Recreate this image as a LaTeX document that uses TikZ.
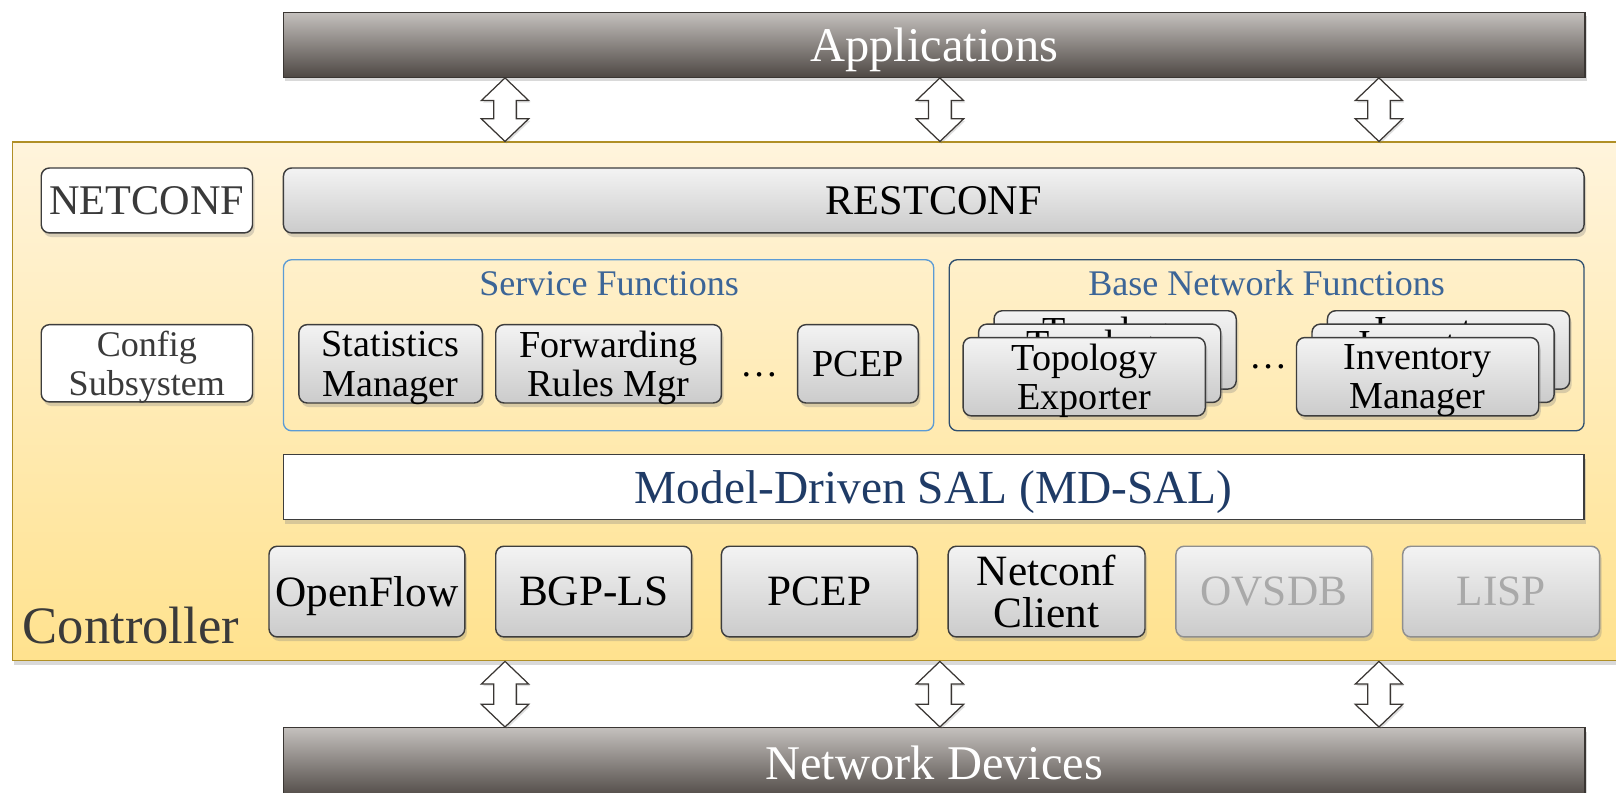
\documentclass[tikz,border=0pt]{standalone}
\usepackage{fontspec}
\setmainfont{Liberation Serif}
\usetikzlibrary{shadows,calc}
\definecolor{bartop}{HTML}{C4C0BD}
\definecolor{barbot}{HTML}{4E4844}
\definecolor{barline}{HTML}{3A3633}
\definecolor{ctrtop}{HTML}{FFF4DC}
\definecolor{ctrbot}{HTML}{FFE28E}
\definecolor{ctrline}{HTML}{B08F26}
\definecolor{gtop}{HTML}{F3F3F3}
\definecolor{gbot}{HTML}{CBCBCB}
\definecolor{boxline}{HTML}{3D3D3D}
\definecolor{fadeline}{HTML}{8F8F8F}
\definecolor{fadetext}{HTML}{A9A9A9}
\definecolor{sfblue}{HTML}{5B9BD5}
\definecolor{bnblue}{HTML}{2F4F6F}
\definecolor{titleblue}{HTML}{3C6597}
\definecolor{navy}{HTML}{1F3B66}
\definecolor{darktext}{HTML}{3A3A3A}
\tikzset{
  shd/.style={drop shadow={shadow xshift=2pt, shadow yshift=-4pt, opacity=0.3}},
  bar/.style={draw=barline, line width=1.2pt, top color=bartop, bottom color=barbot, shd,
    text=white, font=\fontsize{47}{47}\selectfont, inner sep=0pt, text depth=0pt},
  graybox/.style={draw=boxline, line width=1.4pt, rounded corners=8pt, top color=gtop, bottom color=gbot, shd,
    align=center, inner sep=0pt, text depth=0pt},
  whitebox/.style={draw=boxline, line width=1.4pt, rounded corners=8pt, fill=white, shd,
    align=center, inner sep=0pt, text depth=0pt, text=darktext},
  fadebox/.style={graybox, draw=fadeline, text=fadetext},
  container/.style={line width=1.3pt, rounded corners=8pt, inner sep=0pt},
  midtxt/.style={font=\fontsize{37}{38}\selectfont},
  lowtxt/.style={font=\fontsize{42}{41}\selectfont},
  fat/.style={draw=barline, line width=1.2pt, fill=white,
    drop shadow={shadow xshift=1.5pt, shadow yshift=-2pt, opacity=0.25},
    to path={let \p1=(\tikztostart), \p2=(\tikztotarget) in
      (\p1) -- (\x1+23pt,\y1-22pt) -- (\x1+11pt,\y1-22pt) -- (\x1+11pt,\y2+22pt)
      -- (\x1+23pt,\y2+22pt) -- (\p2) -- (\x1-23pt,\y2+22pt) -- (\x1-11pt,\y2+22pt)
      -- (\x1-11pt,\y1-22pt) -- (\x1-23pt,\y1-22pt) -- cycle}}
}
\begin{document}
\begin{tikzpicture}[x=1pt,y=-1pt]
\useasboundingbox (0,0) rectangle (1568,769);
% controller
\node[draw=ctrline, line width=1.5pt, top color=ctrtop, bottom color=ctrbot, shd,
  minimum width=1568pt, minimum height=503pt, inner sep=0pt] (ctrl) at (796,389.5) {};
\node[anchor=base west, font=\fontsize{51}{51}\selectfont, text=darktext, inner sep=0pt] (ctrllabel) at (22,624) {Controller};
% bars
\node[bar, minimum width=1263pt, minimum height=63pt] (app) at (906.5,43.5) {Applications};
\node[bar, minimum width=1263pt, minimum height=69pt] (netdev) at (906.5,740.5) {Network Devices};
% top row
\node[whitebox, minimum width=205pt, minimum height=63pt, font=\fontsize{41}{41}\selectfont] (netconf) at (142.5,194.5) {NETCONF};
\node[graybox, minimum width=1262pt, minimum height=63pt, font=\fontsize{41}{41}\selectfont] (restconf) at (906,194.5) {RESTCONF};
\node[whitebox, minimum width=205pt, minimum height=75pt, font=\fontsize{35}{37}\selectfont] (config) at (142.5,352.5) {Config\\Subsystem};
% service functions
\node[container, draw=sfblue, minimum width=631pt, minimum height=166pt] (svc) at (590.5,335) {};
\node[text=titleblue, font=\fontsize{35}{35}\selectfont, inner sep=0pt, text depth=0pt] (svctitle) at (591,275) {Service Functions};
\node[graybox, midtxt, minimum width=178pt, minimum height=76pt] (stat) at (379,353) {Statistics\\Manager};
\node[graybox, midtxt, minimum width=219pt, minimum height=76pt] (fwd) at (590.5,353) {Forwarding\\Rules Mgr};
\node[midtxt, inner sep=0pt] (dots1) at (737,364) {\ldots};
\node[graybox, midtxt, minimum width=117pt, minimum height=76pt] (pcepsvc) at (832.5,353) {PCEP};
% base network functions
\node[container, draw=bnblue, minimum width=616pt, minimum height=166pt] (bnf) at (1229,335) {};
\node[text=titleblue, font=\fontsize{35}{35}\selectfont, inner sep=0pt, text depth=0pt] (bnftitle) at (1229,275) {Base Network Functions};
\node[graybox, midtxt, minimum width=235pt, minimum height=76pt] (topo3) at (1082,339.5) {Topology\\Exporter};
\node[graybox, midtxt, minimum width=235pt, minimum height=76pt] (topo2) at (1067,352.5) {Topology\\Exporter};
\node[graybox, midtxt, minimum width=235pt, minimum height=76pt] (topo1) at (1052,365.5) {Topology\\Exporter};
\node[midtxt, inner sep=0pt] (dots2) at (1231,356) {\ldots};
\node[graybox, midtxt, minimum width=235pt, minimum height=76pt] (inv3) at (1405.5,339.5) {Inventory\\Manager};
\node[graybox, midtxt, minimum width=235pt, minimum height=76pt] (inv2) at (1390.5,352.5) {Inventory\\Manager};
\node[graybox, midtxt, minimum width=235pt, minimum height=76pt] (inv1) at (1375.5,365.5) {Inventory\\Manager};
% MD-SAL
\node[draw=boxline, line width=1.2pt, fill=white, shd, minimum width=1262pt, minimum height=63pt, inner sep=0pt,
  text=navy, text depth=0pt, font=\fontsize{46}{46}\selectfont] (mdsal) at (906,472.5) {Model-Driven SAL (MD-SAL)};
% bottom row
\node[graybox, lowtxt, minimum width=190pt, minimum height=88pt] (openflow) at (356,574) {OpenFlow};
\node[graybox, lowtxt, minimum width=190pt, minimum height=88pt] (bgpls) at (576,574) {BGP-LS};
\node[graybox, lowtxt, minimum width=190pt, minimum height=88pt] (pcep) at (795,574) {PCEP};
\node[graybox, lowtxt, minimum width=191pt, minimum height=88pt] (netconfc) at (1015.5,574) {Netconf\\Client};
\node[fadebox, lowtxt, minimum width=190pt, minimum height=88pt] (ovsdb) at (1236,574) {OVSDB};
\node[fadebox, lowtxt, minimum width=191pt, minimum height=88pt] (lisp) at (1456.5,574) {LISP};
% arrows
\coordinate (ax1) at (490,0);
\coordinate (ax2) at (912,0);
\coordinate (ax3) at (1338,0);
\foreach \a in {ax1,ax2,ax3}{
  \draw[fat] (app.south -| \a) to (ctrl.north -| \a);
  \draw[fat] (ctrl.south -| \a) to (netdev.north -| \a);
}
\end{tikzpicture}
\end{document}
